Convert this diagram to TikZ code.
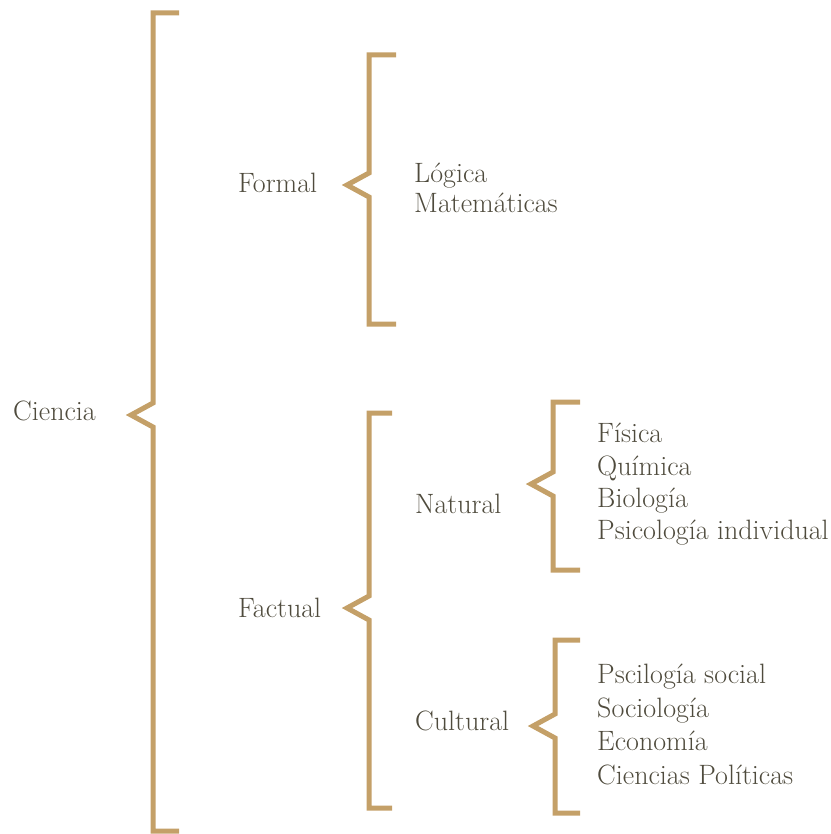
\documentclass[tikz,border=0pt]{standalone}
\usepackage{fontspec}
\begin{document}
\definecolor{gold}{HTML}{C4A068}
\definecolor{ink}{HTML}{4F4B3D}
\tikzset{
  bracestroke/.style={draw=gold, line width=5pt, line join=miter, line cap=butt},
  label/.style={anchor=base west, inner sep=0pt, text=ink, font=\fontsize{28}{32}\selectfont},
}
% \gbrace{x}{top}{tip y}{bottom}{serif length}{tip name}
\newcommand\gbrace[6]{%
  \coordinate (#6) at ({#1-22},#3);
  \draw[bracestroke] ({#1+#5},#2) -- (#1,#2) -- (#1,{#3-12}) -- (#6)
    -- (#1,{#3+12}) -- (#1,#4) -- ({#1+#5},#4);
}
\begin{tikzpicture}[x=1pt,y=-1pt]
  \useasboundingbox (0,0) rectangle (830,834);

  % brackets
  \gbrace{153}{13}{415}{831}{26}{tipCiencia}
  \gbrace{369}{55}{185}{324}{27}{tipFormal}
  \gbrace{369}{413}{608}{808}{23}{tipFactual}
  \gbrace{553}{402}{484}{570}{27}{tipNatural}
  \gbrace{555}{640}{726}{813}{25}{tipCultural}

  % level 1
  \node[label] (ciencia) at (13,420) {Ciencia};

  % level 2
  \node[label] (formal)  at (238,193) {Formal};
  \node[label] (factual) at (238,617) {Factual};

  % formal sciences
  \node[label] (logica) at (414,183) {Lógica};
  \node[label] (mate)   at (414,212) {Matemáticas};

  % factual sciences
  \node[label] (natural)  at (415,513) {Natural};
  \node[label] (cultural) at (415,730) {Cultural};

  % natural
  \node[label] (fisica)  at (597,442) {Física};
  \node[label] (quimica) at (597,475) {Química};
  \node[label] (biologia) at (597,507) {Biología};
  \node[label] (psicind) at (597,539) {Psicología individual};

  % cultural
  \node[label] (psicsoc) at (597,683) {Pscilogía social};
  \node[label] (socio)   at (597,717) {Sociología};
  \node[label] (econ)    at (597,750) {Economía};
  \node[label] (polit)   at (597,784) {Ciencias Políticas};
\end{tikzpicture}
\end{document}
